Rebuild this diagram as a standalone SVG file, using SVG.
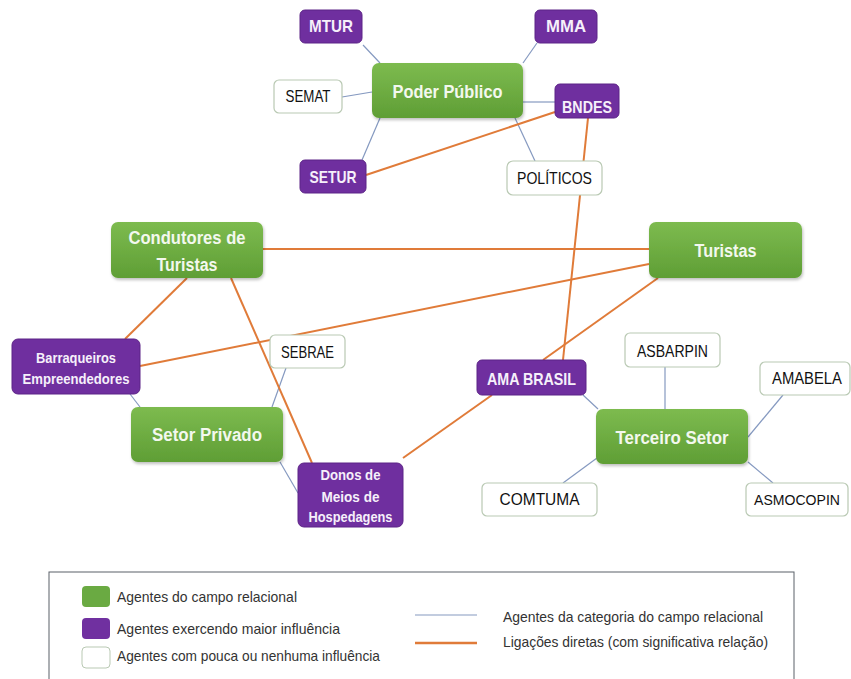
<svg xmlns="http://www.w3.org/2000/svg" width="851" height="679" viewBox="0 0 851 679">
<defs>
<linearGradient id="gGreen" x1="0" y1="0" x2="0" y2="1">
<stop offset="0" stop-color="#7dbb4f"/>
<stop offset="1" stop-color="#5f9e35"/>
</linearGradient>
<filter id="sh" x="-10%" y="-10%" width="130%" height="140%">
<feDropShadow dx="1" dy="2" stdDeviation="1.5" flood-color="#000" flood-opacity="0.25"/>
</filter>
</defs>
<style>
.green{fill:url(#gGreen);filter:url(#sh)}
.purple{fill:#6f2f9f;stroke:#5d2487;stroke-width:1}
.white{fill:#ffffff;stroke:#b9c9b3;stroke-width:1.2}
.tg{font-family:"Liberation Sans",Arial,sans-serif;font-weight:bold;font-size:18px;fill:#f3f8ee;text-anchor:middle}
.tp{font-family:"Liberation Sans",Arial,sans-serif;font-weight:bold;font-size:17px;fill:#f6f0fa;text-anchor:middle}
.tps{font-family:"Liberation Sans",Arial,sans-serif;font-weight:bold;font-size:15px;fill:#f6f0fa;text-anchor:middle}
.tw{font-family:"Liberation Sans",Arial,sans-serif;font-size:17px;fill:#111;text-anchor:middle}
.tws{font-family:"Liberation Sans",Arial,sans-serif;font-size:15px;fill:#111;text-anchor:middle}
.tl{font-family:"Liberation Sans",Arial,sans-serif;font-size:15px;fill:#333}
.blue{stroke:#8599c0;stroke-width:1.2;fill:none}
.orange{stroke:#e07b39;stroke-width:2;fill:none}
</style>
<rect width="851" height="679" fill="#ffffff"/>

<g id="connectors">
<line class="blue" x1="363" y1="45" x2="380" y2="63"/>
<line class="blue" x1="537" y1="43" x2="523" y2="63"/>
<line class="blue" x1="342" y1="97" x2="372" y2="92"/>
<line class="blue" x1="362" y1="160" x2="380" y2="118"/>
<line class="blue" x1="523" y1="102" x2="555" y2="102"/>
<line class="blue" x1="515" y1="118" x2="535" y2="161"/>
<line class="blue" x1="130" y1="394" x2="140" y2="407"/>
<line class="blue" x1="286" y1="368" x2="272" y2="407"/>
<line class="blue" x1="280" y1="462" x2="298" y2="493"/>
<line class="blue" x1="583" y1="395" x2="598" y2="409"/>
<line class="blue" x1="665" y1="367" x2="665" y2="409"/>
<line class="blue" x1="783" y1="395" x2="748" y2="437"/>
<line class="blue" x1="563" y1="483" x2="597" y2="458"/>
<line class="blue" x1="773" y1="483" x2="748" y2="462"/>
<line class="orange" x1="366" y1="175" x2="555" y2="112"/>
<line class="orange" x1="588" y1="118" x2="563" y2="360"/>
<line class="orange" x1="263" y1="249" x2="649" y2="249"/>
<line class="orange" x1="140" y1="366" x2="649" y2="264"/>
<line class="orange" x1="187" y1="278" x2="125" y2="339"/>
<line class="orange" x1="231" y1="278" x2="312" y2="463"/>
<line class="orange" x1="658" y1="278" x2="543" y2="360"/>
<line class="orange" x1="492" y1="395" x2="403" y2="458"/>
</g>

<g id="n-mtur"><rect class="purple" x="300" y="10" width="62" height="33" rx="5"/><text class="tp" x="331" y="32" textLength="44" lengthAdjust="spacingAndGlyphs">MTUR</text></g>
<g id="n-mma"><rect class="purple" x="535" y="10" width="62" height="33" rx="5"/><text class="tp" x="566" y="32" textLength="40" lengthAdjust="spacingAndGlyphs">MMA</text></g>
<g id="n-poder-publico"><rect class="green" x="372" y="63" width="151" height="55" rx="7"/><text class="tg" x="447.5" y="98" textLength="110" lengthAdjust="spacingAndGlyphs">Poder Público</text></g>
<g id="n-semat"><rect class="white" x="274" y="80" width="68" height="33" rx="5"/><text class="tw" x="308" y="102" textLength="45" lengthAdjust="spacingAndGlyphs">SEMAT</text></g>
<g id="n-bndes"><rect class="purple" x="555" y="84" width="64" height="34" rx="5"/><text class="tp" x="587" y="113" textLength="50" lengthAdjust="spacingAndGlyphs">BNDES</text></g>
<g id="n-setur"><rect class="purple" x="300" y="160" width="66" height="33" rx="5"/><text class="tp" x="333" y="183" textLength="47" lengthAdjust="spacingAndGlyphs">SETUR</text></g>
<g id="n-politicos"><rect class="white" x="507" y="161" width="95" height="34" rx="6"/><text class="tw" x="554.5" y="184" textLength="75" lengthAdjust="spacingAndGlyphs">POLÍTICOS</text></g>

<g id="n-condutores"><rect class="green" x="111" y="222" width="152" height="56" rx="7"/><text class="tg" x="187" y="244" textLength="117" lengthAdjust="spacingAndGlyphs">Condutores de</text><text class="tg" x="187" y="271" textLength="61" lengthAdjust="spacingAndGlyphs">Turistas</text></g>
<g id="n-turistas"><rect class="green" x="649" y="222" width="153" height="56" rx="7"/><text class="tg" x="725.5" y="257" textLength="62" lengthAdjust="spacingAndGlyphs">Turistas</text></g>
<g id="n-barraqueiros"><rect class="purple" x="12" y="339" width="128" height="55" rx="6"/><text class="tps" x="76" y="363" textLength="80" lengthAdjust="spacingAndGlyphs">Barraqueiros</text><text class="tps" x="76" y="384" textLength="107" lengthAdjust="spacingAndGlyphs">Empreendedores</text></g>
<g id="n-sebrae"><rect class="white" x="270" y="335" width="75" height="33" rx="5"/><text class="tw" x="307.5" y="358" textLength="53" lengthAdjust="spacingAndGlyphs">SEBRAE</text></g>
<g id="n-setor-privado"><rect class="green" x="131" y="407" width="152" height="55" rx="7"/><text class="tg" x="207" y="441" textLength="110" lengthAdjust="spacingAndGlyphs">Setor Privado</text></g>
<g id="n-donos"><rect class="purple" x="298" y="463" width="105" height="64" rx="6"/><text class="tps" x="350.5" y="480" textLength="60" lengthAdjust="spacingAndGlyphs">Donos de</text><text class="tps" x="350.5" y="502" textLength="58" lengthAdjust="spacingAndGlyphs">Meios de</text><text class="tps" x="350.5" y="522" textLength="84" lengthAdjust="spacingAndGlyphs">Hospedagens</text></g>
<g id="n-ama-brasil"><rect class="purple" x="477" y="360" width="109" height="35" rx="5"/><text class="tp" x="531.5" y="385" textLength="89" lengthAdjust="spacingAndGlyphs">AMA BRASIL</text></g>
<g id="n-asbarpin"><rect class="white" x="625" y="333" width="95" height="34" rx="5"/><text class="tw" x="672.5" y="357" textLength="71" lengthAdjust="spacingAndGlyphs">ASBARPIN</text></g>
<g id="n-amabela"><rect class="white" x="760" y="362" width="90" height="33" rx="5"/><text class="tw" x="807" y="384" textLength="70" lengthAdjust="spacingAndGlyphs">AMABELA</text></g>
<g id="n-terceiro-setor"><rect class="green" x="596" y="409" width="152" height="55" rx="7"/><text class="tg" x="672" y="444" textLength="113" lengthAdjust="spacingAndGlyphs">Terceiro Setor</text></g>
<g id="n-comtuma"><rect class="white" x="482" y="483" width="115" height="33" rx="5"/><text class="tw" x="539.5" y="505" textLength="80" lengthAdjust="spacingAndGlyphs">COMTUMA</text></g>
<g id="n-asmocopin"><rect class="white" x="746" y="483" width="102" height="33" rx="5"/><text class="tws" x="797" y="505" textLength="86" lengthAdjust="spacingAndGlyphs">ASMOCOPIN</text></g>

<g id="legend">
<rect x="49" y="572" width="745" height="120" fill="#ffffff" stroke="#5a6068" stroke-width="1"/>
<rect x="82" y="586" width="28" height="21" rx="4" fill="#6aaa42"/>
<rect x="82" y="618" width="28" height="21" rx="4" fill="#7030a0"/>
<rect x="82" y="647" width="28" height="21" rx="4" fill="#ffffff" stroke="#b9c9b3" stroke-width="1"/>
<text class="tl" x="117" y="602" textLength="180" lengthAdjust="spacingAndGlyphs">Agentes do campo relacional</text>
<text class="tl" x="117" y="634" textLength="223" lengthAdjust="spacingAndGlyphs">Agentes exercendo maior influência</text>
<text class="tl" x="117" y="661" textLength="263" lengthAdjust="spacingAndGlyphs">Agentes com pouca ou nenhuma influência</text>
<line class="blue" x1="415" y1="615" x2="477" y2="615"/>
<line x1="415" y1="643" x2="477" y2="643" stroke="#e07b39" stroke-width="2.5"/>
<text class="tl" x="503" y="622" textLength="260" lengthAdjust="spacingAndGlyphs">Agentes da categoria do campo relacional</text>
<text class="tl" x="503" y="647" textLength="265" lengthAdjust="spacingAndGlyphs">Ligações diretas (com significativa relação)</text>
</g>
</svg>
